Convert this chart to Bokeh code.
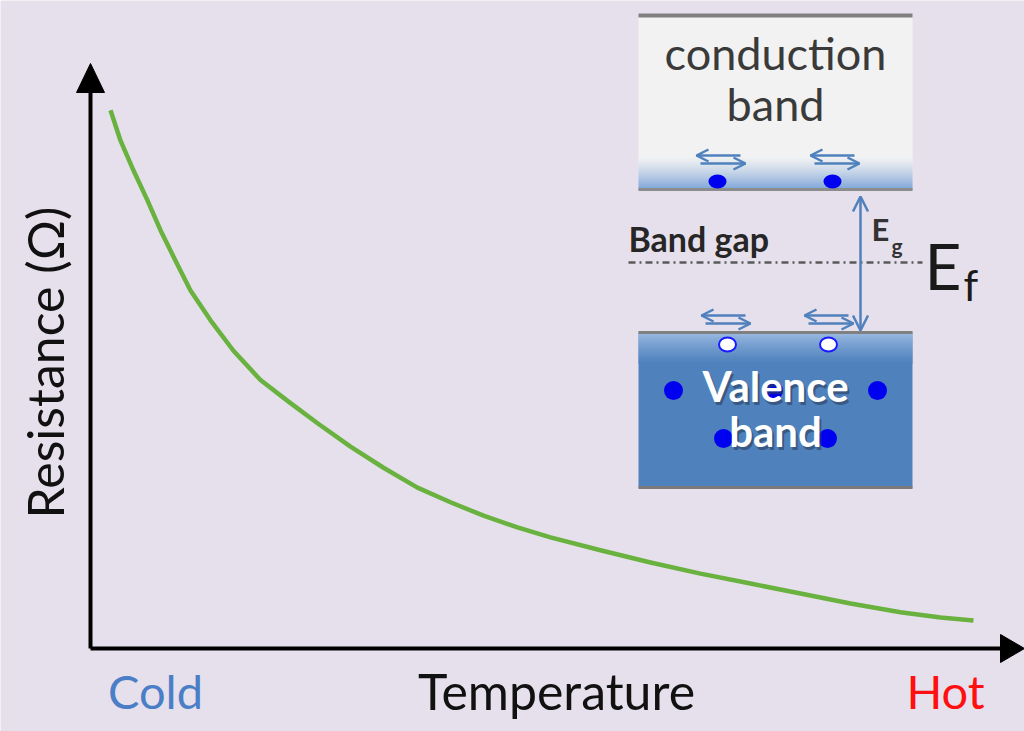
from math import pi
from bokeh.plotting import figure
from bokeh.models import Range1d, Arrow, OpenHead
from bokeh.core.properties import value
from bokeh.embed import file_html
from bokeh.resources import INLINE

# ---- data (arbitrary units: temperature 0..100 along the x arrow, resistance 0..100 up the y arrow)
temperature = [2.20, 3.30, 4.73, 6.26, 7.69, 9.34, 10.99, 13.19, 15.71, 18.68, 21.76, 24.95,
               28.57, 32.20, 35.93, 39.56, 43.19, 46.92, 50.55, 56.04, 61.54, 67.03, 72.53,
               78.02, 83.52, 89.01, 93.41, 97.03]
resistance = [92.0, 86.8, 81.7, 76.6, 71.5, 66.3, 61.2, 56.1, 50.9, 45.9, 42.2, 38.5,
              34.5, 30.9, 27.5, 25.0, 22.7, 20.7, 19.0, 16.8, 14.7, 12.8, 11.1,
              9.4, 7.7, 6.2, 5.3, 4.8]
x_labels = ["Cold", "Temperature", "Hot"]
y_label = "Resistance (Ω)"
band_labels = ["conduction", "band", "Valence", "band", "Band gap"]

BG = "#e6e0ec"
FONT = value("Lato")
BLUE = "#4f81bd"

W, H = 1024, 731


# layout helpers: picture-pixel position -> data units
def X(px):
    return (px - 90) / 9.1


def Y(py):
    return (648 - py) / 5.85


def lerp(c1, c2, t):
    a = [int(c1[i:i + 2], 16) for i in (1, 3, 5)]
    b = [int(c2[i:i + 2], 16) for i in (1, 3, 5)]
    return "#" + "".join("%02x" % round(a[k] + (b[k] - a[k]) * t) for k in range(3))


p = figure(width=W, height=H, x_range=Range1d(X(0), X(W)), y_range=Range1d(Y(H), Y(0)),
           output_backend="svg", toolbar_location=None, min_border=0,
           x_axis_location=None, y_axis_location=None)
p.grid.visible = False
p.outline_line_color = None
p.background_fill_color = BG
p.border_fill_color = BG

# ---- axes arrows
p.line([X(90), X(90)], [Y(648), Y(90)], line_color="black", line_width=4)
p.patch([X(76), X(90), X(104)], [Y(92), Y(63), Y(92)], fill_color="black", line_color="black")
p.line([X(90), X(1002)], [Y(648), Y(648)], line_color="black", line_width=4)
p.patch([X(1000), X(1024), X(1000)], [Y(634), Y(648), Y(662)], fill_color="black", line_color="black")

# ---- curve
p.line(temperature, resistance, line_color="#6ab23f", line_width=4.5, line_join="round")

# ---- axis texts
p.text(x=[X(155), X(556), X(945)], y=[Y(690)] * 3, text=x_labels,
       text_color=["#4a7ec6", "#111111", "#ff1010"], text_font=FONT,
       text_font_size=["47px", "50px", "47px"],
       text_align="center", text_baseline="middle")
p.text(x=[X(44)], y=[Y(362)], text=[y_label], angle=pi / 2, text_color="#111111",
       text_font=FONT, text_font_size="50px", text_align="center", text_baseline="middle")

# ---- conduction band box
L, R = 638, 912
p.quad(left=[X(L)], right=[X(R)], top=[Y(14)], bottom=[Y(189)], fill_color="#f2f2f2", line_color=None)
n = 34
p.quad(left=[X(L)] * n, right=[X(R)] * n,
       top=[Y(155 + i) for i in range(n)], bottom=[Y(156 + i) for i in range(n)],
       fill_color=[lerp("#f2f2f2", "#5b8dd0", (i / (n - 1)) ** 1.3) for i in range(n)], line_color=None)
p.line([X(L), X(R)], [Y(15), Y(15)], line_color="#808080", line_width=4)
p.line([X(L), X(R)], [Y(189), Y(189)], line_color="#8c8c8c", line_width=3)
p.text(x=[X(775), X(775)], y=[Y(52), Y(103)], text=band_labels[:2], text_color="#3a3a3a",
       text_font=FONT, text_font_size="45px", text_align="center", text_baseline="middle")
p.ellipse(x=[X(717), X(832)], y=[Y(181), Y(181)], width=18 / 9.1, height=14 / 5.85,
          fill_color="#0000f0", line_color=None)

# ---- valence band box
p.quad(left=[X(L)], right=[X(R)], top=[Y(332)], bottom=[Y(487)], fill_color=BLUE, line_color=None)
m = 30
p.quad(left=[X(L)] * m, right=[X(R)] * m,
       top=[Y(333 + i) for i in range(m)], bottom=[Y(334 + i) for i in range(m)],
       fill_color=[lerp("#b4cdee", BLUE, (i / (m - 1)) ** 0.8) for i in range(m)], line_color=None)
p.line([X(L), X(R)], [Y(332), Y(332)], line_color="#808080", line_width=3)
p.line([X(L), X(R)], [Y(487), Y(487)], line_color="#7a7a7a", line_width=3)
p.scatter(x=[X(673), X(877), X(773), X(723), X(827)], y=[Y(390), Y(390), Y(390), Y(438), Y(438)],
          size=19, fill_color="#0000f0", line_color=None)
p.ellipse(x=[X(727), X(828)], y=[Y(344), Y(344)], width=17 / 9.1, height=14 / 5.85,
          fill_color="white", line_color="#1a1aff", line_width=2)
p.text(x=[X(777), X(777)], y=[Y(388), Y(433)], text=band_labels[2:4], text_color="#2a3f5a",
       text_alpha=0.6, text_font=FONT, text_font_size="42px", text_font_style="bold",
       text_align="center", text_baseline="middle")
p.text(x=[X(775), X(775)], y=[Y(385), Y(430)], text=band_labels[2:4], text_color="white",
       text_font=FONT, text_font_size="42px", text_font_style="bold",
       text_align="center", text_baseline="middle")

# ---- band gap, Fermi level
p.line([X(628), X(922)], [Y(262), Y(262)], line_color="#5a5a5a", line_width=2.5, line_dash="7 4 2 4")
p.text(x=[X(628)], y=[Y(238)], text=[band_labels[4]], text_color="#262626", text_font=FONT,
       text_font_size="34px", text_font_style="bold", text_align="left", text_baseline="middle")
p.text(x=[X(871)], y=[Y(228)], text=["E"], text_color="#333333", text_font=FONT,
       text_font_size="31px", text_font_style="bold", text_align="left", text_baseline="middle")
p.text(x=[X(891)], y=[Y(245)], text=["g"], text_color="#333333", text_font=FONT,
       text_font_size="21px", text_font_style="bold", text_align="left", text_baseline="middle")
p.text(x=[X(924)], y=[Y(265)], text=["E"], text_color="#1a1a1a", text_font=FONT,
       text_font_size="64px", text_align="left", text_baseline="middle")
p.text(x=[X(963)], y=[Y(284)], text=["f"], text_color="#1a1a1a", text_font=FONT,
       text_font_size="42px", text_align="left", text_baseline="middle")


# ---- arrows
def arr(x0, y0, x1, y1, size=12, both=False):
    a = Arrow(end=OpenHead(size=size, line_color=BLUE, line_width=2.5),
              start=OpenHead(size=size, line_color=BLUE, line_width=2.5) if both else None,
              x_start=X(x0), y_start=Y(y0), x_end=X(x1), y_end=Y(y1),
              line_color=BLUE, line_width=2.5)
    p.add_layout(a)


for cx, cy in [(720, 159), (834, 159), (725, 319), (828, 319)]:
    arr(cx + 20, cy - 4, cx - 24, cy - 4)
    arr(cx - 20, cy + 4, cx + 25, cy + 4)

arr(860, 330, 860, 196, size=15, both=True)

open("out.html", "w").write(file_html(p, INLINE))
